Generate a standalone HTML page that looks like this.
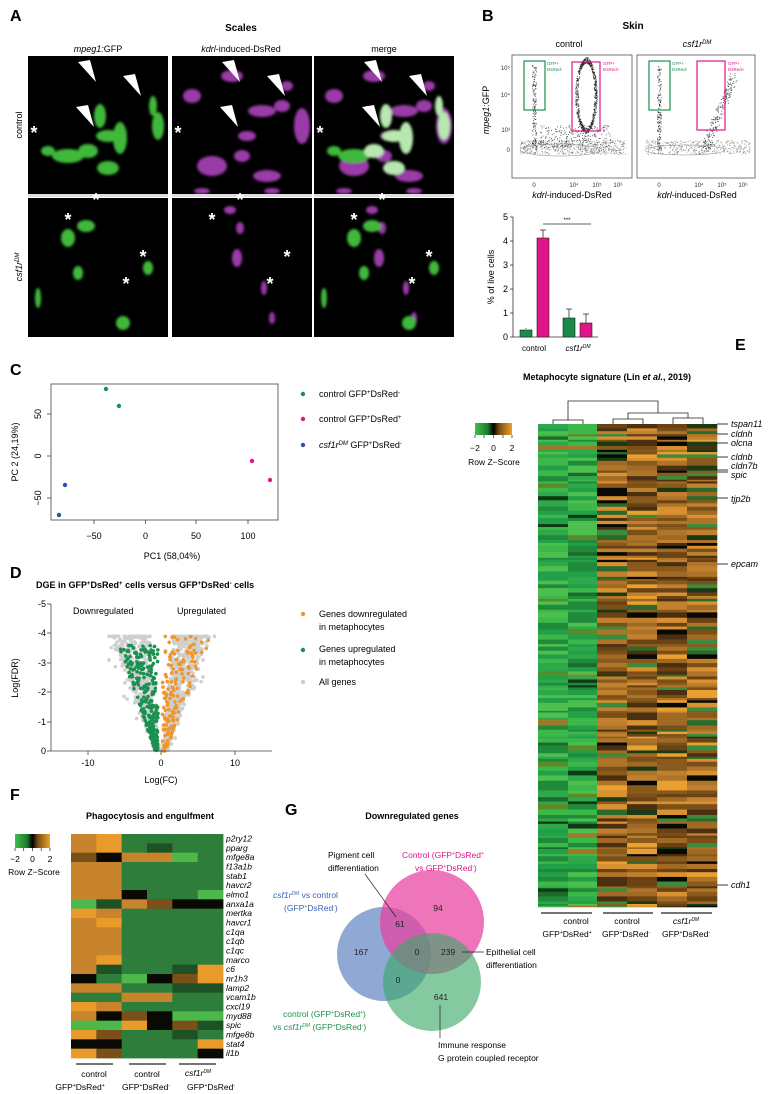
<!DOCTYPE html>
<html><head><meta charset="utf-8">
<style>
html,body{margin:0;padding:0;background:#fff;}
svg{display:block;font-family:"Liberation Sans",Arial,sans-serif;}
.b{font-weight:bold;}
.i{font-style:italic;}
</style></head>
<body>
<svg id="s" width="770" height="1094" viewBox="0 0 770 1094" xmlns="http://www.w3.org/2000/svg">
<defs>
<linearGradient id="zk" x1="0" x2="1" y1="0" y2="0">
<stop offset="0" stop-color="#3fbf4a"/><stop offset="0.35" stop-color="#1c7a2c"/><stop offset="0.5" stop-color="#000"/><stop offset="0.65" stop-color="#7a4d14"/><stop offset="1" stop-color="#f0a02a"/>
</linearGradient>
<filter id="bl"><feGaussianBlur stdDeviation="1.2"/></filter>
</defs>
<rect width="770" height="1094" fill="#fff"/>

<!-- Panel A -->
<text x="10" y="21" class="b" font-size="16">A</text>
<text x="241" y="31" class="b" font-size="10" text-anchor="middle">Scales</text>
<text x="98" y="52" font-size="9" text-anchor="middle"><tspan class="i">mpeg1:</tspan>GFP</text>
<text x="241" y="52" font-size="9" text-anchor="middle"><tspan class="i">kdrl</tspan>-induced-DsRed</text>
<text x="384" y="52" font-size="9" text-anchor="middle">merge</text>
<text transform="translate(22,125) rotate(-90)" font-size="9" text-anchor="middle">control</text>
<text transform="translate(22,267) rotate(-90)" font-size="9" text-anchor="middle" class="i">csf1r<tspan font-size="6" dy="-3">DM</tspan></text>
<g id="imgs"></g>

<!-- Panel B -->
<text x="482" y="21" class="b" font-size="16">B</text>
<text x="633" y="29" class="b" font-size="10" text-anchor="middle">Skin</text>
<text x="569" y="47" font-size="9" text-anchor="middle">control</text>
<text x="697" y="47" font-size="9" text-anchor="middle" class="i">csf1r<tspan font-size="6" dy="-3">DM</tspan></text>
<text transform="translate(489,110) rotate(-90)" font-size="9" text-anchor="middle"><tspan class="i">mpeg1</tspan>:GFP</text>
<g id="facs"></g>
<rect x="512" y="55" width="120" height="123" fill="none" stroke="#555" stroke-width="0.8"/>
<rect x="637" y="55" width="118" height="123" fill="none" stroke="#555" stroke-width="0.8"/>
<g font-size="6" fill="#333" text-anchor="end">
<text x="510" y="70">10⁵</text><text x="510" y="97">10⁴</text><text x="510" y="132">10³</text><text x="510" y="152">0</text>
</g>
<g font-size="6" fill="#333" text-anchor="middle">
<text x="534" y="187">0</text><text x="574" y="187">10⁴</text><text x="597" y="187">10⁵</text><text x="618" y="187">10⁶</text>
<text x="659" y="187">0</text><text x="699" y="187">10⁴</text><text x="722" y="187">10⁵</text><text x="743" y="187">10⁶</text>
</g>
<text x="572" y="198" font-size="9" text-anchor="middle"><tspan class="i">kdrl</tspan>-induced-DsRed</text>
<text x="697" y="198" font-size="9" text-anchor="middle"><tspan class="i">kdrl</tspan>-induced-DsRed</text>
<g fill="none" stroke-width="1.2">
<rect x="524" y="61" width="21" height="49" stroke="#1a9150"/>
<rect x="572" y="62" width="28" height="69" stroke="#e0158a"/>
<rect x="649" y="61" width="21" height="49" stroke="#1a9150"/>
<rect x="697" y="61" width="28" height="69" stroke="#e0158a"/>
</g>
<g font-size="4.5">
<text x="547" y="65" fill="#1a9150">GFP+</text><text x="547" y="71" fill="#1a9150">DsRed-</text>
<text x="603" y="65" fill="#e0158a">GFP+</text><text x="603" y="71" fill="#e0158a">DsRed+</text>
<text x="672" y="65" fill="#1a9150">GFP+</text><text x="672" y="71" fill="#1a9150">DsRed-</text>
<text x="728" y="65" fill="#e0158a">GFP+</text><text x="728" y="71" fill="#e0158a">DsRed+</text>
</g>
<!-- bar chart -->
<g stroke="#333" stroke-width="0.8" fill="none">
<line x1="513" y1="217" x2="513" y2="337"/><line x1="513" y1="337" x2="598" y2="337"/>
<line x1="510" y1="217" x2="513" y2="217"/><line x1="510" y1="241" x2="513" y2="241"/><line x1="510" y1="265" x2="513" y2="265"/><line x1="510" y1="289" x2="513" y2="289"/><line x1="510" y1="313" x2="513" y2="313"/><line x1="510" y1="337" x2="513" y2="337"/>
<line x1="543" y1="224" x2="591" y2="224"/>
<line x1="526" y1="328" x2="526" y2="329"/>
<line x1="543" y1="238" x2="543" y2="230"/><line x1="540" y1="230" x2="546" y2="230"/>
<line x1="569" y1="318" x2="569" y2="309"/><line x1="566" y1="309" x2="572" y2="309"/>
<line x1="586" y1="323" x2="586" y2="314"/><line x1="583" y1="314" x2="589" y2="314"/>
</g>
<g font-size="9" text-anchor="end"><text x="508" y="220">5</text><text x="508" y="244">4</text><text x="508" y="268">3</text><text x="508" y="292">2</text><text x="508" y="316">1</text><text x="508" y="340">0</text></g>
<text transform="translate(494,277) rotate(-90)" font-size="9" text-anchor="middle">% of live cells</text>
<text x="567" y="222" font-size="6" text-anchor="middle">***</text>
<rect x="520" y="330" width="12" height="7" fill="#1a8a4a" stroke="#222" stroke-width="0.6"/>
<rect x="537" y="238" width="12" height="99" fill="#e0158a" stroke="#222" stroke-width="0.6"/>
<rect x="563" y="318" width="12" height="19" fill="#1a8a4a" stroke="#222" stroke-width="0.6"/>
<rect x="580" y="323" width="12" height="14" fill="#e0158a" stroke="#222" stroke-width="0.6"/>
<text x="534" y="351" font-size="8" text-anchor="middle">control</text>
<text x="578" y="351" font-size="8" text-anchor="middle" class="i">csf1r<tspan font-size="5" dy="-3">DM</tspan></text>

<!-- Panel C -->
<text x="10" y="375" class="b" font-size="16">C</text>
<rect x="51" y="384" width="227" height="136" fill="none" stroke="#444" stroke-width="0.8"/>
<g stroke="#444" stroke-width="0.8">
<line x1="94" y1="520" x2="94" y2="524"/><line x1="145.5" y1="520" x2="145.5" y2="524"/><line x1="196" y1="520" x2="196" y2="524"/><line x1="248" y1="520" x2="248" y2="524"/>
<line x1="47" y1="414" x2="51" y2="414"/><line x1="47" y1="456" x2="51" y2="456"/><line x1="47" y1="498" x2="51" y2="498"/>
</g>
<g font-size="9" text-anchor="middle"><text x="94" y="539">−50</text><text x="145.5" y="539">0</text><text x="196" y="539">50</text><text x="248" y="539">100</text></g>
<g font-size="9" text-anchor="middle">
<text transform="translate(41,414) rotate(-90)">50</text><text transform="translate(41,456) rotate(-90)">0</text><text transform="translate(41,498) rotate(-90)">−50</text>
<text transform="translate(18,452) rotate(-90)">PC 2 (24,19%)</text>
</g>
<text x="172" y="559" font-size="9" text-anchor="middle">PC1 (58,04%)</text>
<circle cx="106" cy="389" r="2.2" fill="#1a9150"/><circle cx="119" cy="406" r="2.2" fill="#1a9150"/>
<circle cx="252" cy="461" r="2.2" fill="#e0158a"/><circle cx="270" cy="480" r="2.2" fill="#e0158a"/>
<circle cx="65" cy="485" r="2.2" fill="#2a52a8"/><circle cx="59" cy="515" r="2.2" fill="#2a52a8"/>
<circle cx="303" cy="394" r="2.2" fill="#1a9150"/><circle cx="303" cy="419" r="2.2" fill="#e0158a"/><circle cx="303" cy="445" r="2.2" fill="#2a52a8"/>
<g font-size="9">
<text x="319" y="397">control GFP<tspan font-size="6" dy="-3">+</tspan><tspan dy="3">DsRed</tspan><tspan font-size="6" dy="-3">-</tspan></text>
<text x="319" y="422">control GFP<tspan font-size="6" dy="-3">+</tspan><tspan dy="3">DsRed</tspan><tspan font-size="6" dy="-3">+</tspan></text>
<text x="319" y="448"><tspan class="i">csf1r</tspan><tspan font-size="6" dy="-3" class="i">DM</tspan><tspan dy="3"> GFP</tspan><tspan font-size="6" dy="-3">+</tspan><tspan dy="3">DsRed</tspan><tspan font-size="6" dy="-3">-</tspan></text>
</g>

<!-- Panel D -->
<text x="10" y="578" class="b" font-size="16">D</text>
<text x="36" y="588" class="b" font-size="9">DGE in GFP<tspan font-size="6" dy="-3">+</tspan><tspan dy="3">DsRed</tspan><tspan font-size="6" dy="-3">+</tspan><tspan dy="3"> cells versus GFP</tspan><tspan font-size="6" dy="-3">+</tspan><tspan dy="3">DsRed</tspan><tspan font-size="6" dy="-3">-</tspan><tspan dy="3"> cells</tspan></text>
<g id="volc"></g>
<g stroke="#444" stroke-width="0.8">
<line x1="51" y1="604" x2="51" y2="751"/><line x1="51" y1="751" x2="272" y2="751"/>
<line x1="47" y1="604" x2="51" y2="604"/><line x1="47" y1="633" x2="51" y2="633"/><line x1="47" y1="663" x2="51" y2="663"/><line x1="47" y1="692" x2="51" y2="692"/><line x1="47" y1="722" x2="51" y2="722"/><line x1="47" y1="751" x2="51" y2="751"/>
<line x1="88" y1="751" x2="88" y2="755"/><line x1="161" y1="751" x2="161" y2="755"/><line x1="235" y1="751" x2="235" y2="755"/>
</g>
<g font-size="9" text-anchor="end"><text x="46" y="607">-5</text><text x="46" y="636">-4</text><text x="46" y="666">-3</text><text x="46" y="695">-2</text><text x="46" y="725">-1</text><text x="46" y="754">0</text></g>
<g font-size="9" text-anchor="middle"><text x="88" y="766">-10</text><text x="161" y="766">0</text><text x="235" y="766">10</text></g>
<text transform="translate(18,678) rotate(-90)" font-size="9" text-anchor="middle">Log(FDR)</text>
<text x="161" y="783" font-size="9" text-anchor="middle">Log(FC)</text>
<text x="73" y="614" font-size="9">Downregulated</text>
<text x="177" y="614" font-size="9">Upregulated</text>
<circle cx="303" cy="614" r="2.2" fill="#f0962a"/><circle cx="303" cy="650" r="2.2" fill="#1a9150"/><circle cx="303" cy="682" r="2.2" fill="#ccc"/>
<g font-size="9"><text x="319" y="617">Genes downregulated</text><text x="319" y="630">in metaphocytes</text>
<text x="319" y="652">Genes upregulated</text><text x="319" y="665">in metaphocytes</text><text x="319" y="685">All genes</text></g>

<!-- Panel E -->
<text x="735" y="350" class="b" font-size="16">E</text>
<text x="523" y="380" class="b" font-size="9">Metaphocyte signature (Lin <tspan class="i">et al.</tspan>, 2019)</text>
<g stroke="#222" stroke-width="0.8" fill="none">
<polyline points="553,424 553,420 583,420 583,424"/>
<polyline points="613,424 613,419 643,419 643,424"/>
<polyline points="673,424 673,418 703,418 703,424"/>
<polyline points="628,419 628,413 688,413 688,418"/>
<polyline points="568,420 568,401 658,401 658,413"/>
</g>
<rect x="475" y="423" width="37" height="12" fill="url(#zk)"/>
<g stroke="#222" stroke-width="0.7"><line x1="475" y1="435" x2="475" y2="438"/><line x1="484" y1="435" x2="484" y2="438"/><line x1="493.5" y1="435" x2="493.5" y2="438"/><line x1="503" y1="435" x2="503" y2="438"/><line x1="512" y1="435" x2="512" y2="438"/></g>
<g font-size="8.5" text-anchor="middle"><text x="475" y="451">−2</text><text x="493.5" y="451">0</text><text x="512" y="451">2</text></g>
<text x="494" y="465" font-size="8.5" text-anchor="middle">Row Z−Score</text>
<g id="hmE"></g>
<g stroke="#222" stroke-width="0.9">
<line x1="717" y1="424" x2="728" y2="424"/><line x1="717" y1="434" x2="728" y2="434"/><line x1="717" y1="443" x2="728" y2="443"/><line x1="717" y1="457" x2="728" y2="457"/><line x1="717" y1="470" x2="728" y2="470"/><line x1="717" y1="472" x2="728" y2="472"/><line x1="717" y1="498" x2="728" y2="498"/><line x1="717" y1="564" x2="728" y2="564"/><line x1="717" y1="885" x2="728" y2="885"/>
</g>
<g font-size="9" class="i">
<text x="731" y="427">tspan11</text><text x="731" y="437">cldnh</text><text x="731" y="446">olcna</text><text x="731" y="460">cldnb</text><text x="731" y="469">cldn7b</text><text x="731" y="478">spic</text><text x="731" y="502">tjp2b</text><text x="731" y="567">epcam</text><text x="731" y="888">cdh1</text>
</g>
<g stroke="#222" stroke-width="1.3"><line x1="541" y1="913" x2="592" y2="913"/><line x1="603" y1="913" x2="653" y2="913"/><line x1="661" y1="913" x2="712" y2="913"/></g>
<g font-size="8.5" text-anchor="middle">
<text x="576" y="924">control</text><text x="627" y="924">control</text><text x="686" y="924" class="i">csf1r<tspan font-size="5" dy="-3">DM</tspan></text>
<text x="567" y="937">GFP<tspan font-size="5" dy="-3">+</tspan><tspan dy="3">DsRed</tspan><tspan font-size="5" dy="-3">+</tspan></text>
<text x="626" y="937">GFP<tspan font-size="5" dy="-3">+</tspan><tspan dy="3">DsRed</tspan><tspan font-size="5" dy="-3">-</tspan></text>
<text x="686" y="937">GFP<tspan font-size="5" dy="-3">+</tspan><tspan dy="3">DsRed</tspan><tspan font-size="5" dy="-3">-</tspan></text>
</g>

<!-- Panel F -->
<text x="10" y="800" class="b" font-size="16">F</text>
<text x="150" y="819" class="b" font-size="9" text-anchor="middle">Phagocytosis and engulfment</text>
<rect x="15" y="834" width="35" height="14" fill="url(#zk)"/>
<g stroke="#222" stroke-width="0.7"><line x1="15" y1="848" x2="15" y2="851"/><line x1="23.7" y1="848" x2="23.7" y2="851"/><line x1="32.5" y1="848" x2="32.5" y2="851"/><line x1="41.2" y1="848" x2="41.2" y2="851"/><line x1="50" y1="848" x2="50" y2="851"/></g>
<g font-size="8.5" text-anchor="middle"><text x="15" y="862">−2</text><text x="32.5" y="862">0</text><text x="50" y="862">2</text></g>
<text x="34" y="875" font-size="8.5" text-anchor="middle">Row Z−Score</text>
<g id="hmF"></g>
<g stroke="#222" stroke-width="1.3"><line x1="76" y1="1064" x2="113" y2="1064"/><line x1="129" y1="1064" x2="166" y2="1064"/><line x1="179" y1="1064" x2="216" y2="1064"/></g>
<g font-size="8.5" text-anchor="middle">
<text x="94" y="1077">control</text><text x="147" y="1077">control</text><text x="198" y="1076" class="i">csf1r<tspan font-size="5" dy="-3">DM</tspan></text>
<text x="80" y="1090">GFP<tspan font-size="5" dy="-3">+</tspan><tspan dy="3">DsRed</tspan><tspan font-size="5" dy="-3">+</tspan></text>
<text x="146" y="1090">GFP<tspan font-size="5" dy="-3">+</tspan><tspan dy="3">DsRed</tspan><tspan font-size="5" dy="-3">-</tspan></text>
<text x="211" y="1090">GFP<tspan font-size="5" dy="-3">+</tspan><tspan dy="3">DsRed</tspan><tspan font-size="5" dy="-3">-</tspan></text>
</g>

<!-- Panel G -->
<text x="285" y="815" class="b" font-size="16">G</text>
<text x="412" y="819" class="b" font-size="9" text-anchor="middle">Downregulated genes</text>
<circle cx="384" cy="954" r="47" fill="#6f8fc8" fill-opacity="0.78"/>
<circle cx="432" cy="922" r="52" fill="#e8409e" fill-opacity="0.72"/>
<circle cx="432" cy="982" r="49" fill="#3aa868" fill-opacity="0.62"/>
<g font-size="8.5" text-anchor="middle" fill="#222">
<text x="400" y="927">61</text><text x="438" y="911">94</text><text x="361" y="955">167</text><text x="417" y="955">0</text><text x="448" y="955">239</text><text x="398" y="983">0</text><text x="441" y="1000">641</text>
</g>
<g font-size="8.5">
<text x="328" y="858">Pigment cell</text><text x="328" y="871">differentiation</text>
<text x="402" y="858" fill="#e0158a">Control (GFP<tspan font-size="5" dy="-3">+</tspan><tspan dy="3">DsRed</tspan><tspan font-size="5" dy="-3">+</tspan></text>
<text x="415" y="871" fill="#e0158a">vs GFP<tspan font-size="5" dy="-3">+</tspan><tspan dy="3">DsRed</tspan><tspan font-size="5" dy="-3">-</tspan><tspan dy="3">)</tspan></text>
<text x="273" y="898" fill="#3d62b0"><tspan class="i">csf1r</tspan><tspan font-size="5" dy="-3" class="i">DM</tspan><tspan dy="3"> vs control</tspan></text>
<text x="284" y="911" fill="#3d62b0">(GFP<tspan font-size="5" dy="-3">+</tspan><tspan dy="3">DsRed</tspan><tspan font-size="5" dy="-3">-</tspan><tspan dy="3">)</tspan></text>
<text x="283" y="1017" fill="#1a9150">control (GFP<tspan font-size="5" dy="-3">+</tspan><tspan dy="3">DsRed</tspan><tspan font-size="5" dy="-3">+</tspan><tspan dy="3">)</tspan></text>
<text x="273" y="1030" fill="#1a9150">vs <tspan class="i">csf1r</tspan><tspan font-size="5" dy="-3" class="i">DM</tspan><tspan dy="3"> (GFP</tspan><tspan font-size="5" dy="-3">+</tspan><tspan dy="3">DsRed</tspan><tspan font-size="5" dy="-3">-</tspan><tspan dy="3">)</tspan></text>
<text x="438" y="1048">Immune response</text><text x="438" y="1061">G protein coupled receptor</text>
<text x="486" y="955">Epithelial cell</text><text x="486" y="968">differentiation</text>
</g>
<g stroke="#222" stroke-width="0.7">
<line x1="365" y1="874" x2="396" y2="917"/>
<line x1="462" y1="952" x2="484" y2="952"/>
<line x1="440" y1="1005" x2="440" y2="1038"/>
</g>
</svg>
<script>
(function(){
var NS="http://www.w3.org/2000/svg";
function el(p,t,a){var e=document.createElementNS(NS,t);for(var k in a)e.setAttribute(k,a[k]);p.appendChild(e);return e;}
var seed=7;function r(){seed=(seed*16807)%2147483647;return (seed-1)/2147483646;}
// Panel A images
var g=document.getElementById('imgs');
var cols=[28,172,314],rows=[[56,138],[198,139]];
var cellsC=[[40,100,16,7],[60,95,10,7],[80,80,12,6],[72,60,6,12],[92,82,7,16],[80,112,11,7],[130,70,6,14],[125,50,4,10],[20,95,7,5]];
var cellsM=[[60,20,11,6],[90,55,14,6],[110,50,8,6],[130,70,8,18],[40,110,15,10],[95,120,14,6],[20,40,9,7],[115,30,6,5],[70,100,8,6],[30,135,8,3],[100,135,8,3],[75,80,9,5]];
var cellsD=[[40,40,7,9],[58,28,9,6],[50,75,5,7],[120,70,5,7],[10,100,3,10],[95,125,7,7]];
var cellsDM=[[58,12,6,4],[68,30,4,6],[65,60,5,9],[92,90,3,7],[100,120,3,6]];
rows.forEach(function(rw,ri){cols.forEach(function(cx,ci){
 el(g,'rect',{x:cx,y:rw[0],width:140,height:rw[1],fill:'#000'});
 var gg=el(g,'g',{filter:'url(#bl)'});
 var G=ri==0?cellsC:cellsD,M=ri==0?cellsM:cellsDM;
 if(ci>=1)M.forEach(function(c){el(gg,'ellipse',{cx:cx+c[0],cy:rw[0]+c[1],rx:c[2],ry:c[3],fill:'#9a3aa8'});});
 if(ci!=1)G.forEach(function(c){el(gg,'ellipse',{cx:cx+c[0],cy:rw[0]+c[1],rx:c[2],ry:c[3],fill:ci==2&&ri==0&&c[0]>55?'#b8e8b0':'#3fb83a'});});
 var stars=ri==0?[[6,83]]:[[40,28],[68,8],[115,65],[98,92]];
 stars.forEach(function(s){var t=el(g,'text',{x:cx+s[0],y:rw[0]+s[1],fill:'#fff','font-size':'18','font-weight':'bold','text-anchor':'middle'});t.textContent='*';});
 if(ri==0){[[60,18],[105,32],[58,63]].forEach(function(a){var x=cx+a[0],y=rw[0]+a[1];el(g,'polygon',{points:(x-10)+','+(y-12)+' '+(x+2)+','+(y-14)+' '+(x+8)+','+(y+8),fill:'#fff'});});}
 if(ri==0)el(g,'rect',{x:cx,y:rw[0]+rw[1],width:140,height:3,fill:'#ddd'});
});});
// FACS dots
var f=document.getElementById('facs');
function dots(n,fx,col,op){for(var i=0;i<n;i++){var p=fx();el(f,'rect',{x:p[0],y:p[1],width:0.9,height:0.9,fill:col||'#222','fill-opacity':op||0.8});}}
[0,125].forEach(function(o,k){
 dots(160,function(){return [o+534+(r()-0.5)*4,65+r()*85];});
 dots(k?400:600,function(){return [o+520+r()*105,140+r()*14];},'#555',0.6);
 if(!k){dots(700,function(){var t=r()*6.28;return [586+Math.cos(t)*(8+r()*3),95+Math.sin(t)*(32+r()*6)];});
  dots(250,function(){return [540+r()*70,125+r()*22];});}
 else{dots(220,function(){var t=r();return [o+575+t*30+r()*8,145-t*75+r()*10];});}
});
el(f,'ellipse',{cx:560,cy:150,rx:40,ry:6,fill:'none',stroke:'#888','stroke-width':0.5});
el(f,'ellipse',{cx:685,cy:150,rx:40,ry:5,fill:'none',stroke:'#888','stroke-width':0.5});
// Volcano
var v=document.getElementById('volc');
function X(fc){return 161+fc*7.35;}function Y(l){return 751-l*29.4;}
function pt(fc,l,c,rr){el(v,'circle',{cx:X(fc),cy:Y(l),r:rr||1.8,fill:c});}
for(var i=0;i<1100;i++){var l=Math.min(3.9,Math.pow(r(),0.8)*4.1),s=r()<0.5?-1:1;var fc=s*(0.1+l*(0.3+r()*1.3)+r()*0.8);if(r()<0.04)fc*=1.5;pt(fc,l,'#cfcfcf');}
for(var i=0;i<240;i++){var l=r()*3.6;var fc=-(0.4+r()*(0.4+l*1.4));pt(fc,l,'#1a9150');}
for(var i=0;i<150;i++){var l=r()*3.9;var fc=(0.2+r()*(0.4+l*1.6));pt(fc,l,'#f0962a');}
// Heatmap F
var hf=document.getElementById('hmF');
var C={O:'#c8842c',o:'#e89a2a',g:'#2e7d3a',d:'#1e5226',G:'#4cb84a',k:'#0a0a05',b:'#7a5018'};
var M=["Oogggg","Oogdgg","bkOOGg","OOgggg","OOgggg","OOgggg","OOkggG","GdObkk","oOgggg","Oogggg","OOgggg","OOgggg","OOgggg","Oogggg","Odggdo","kgGkbo","OOggdd","ggOOgg","oOgggg","OkbkGG","GGokbd","obggdg","kkgggo","obgggk"];
var genes=["p2ry12","pparg","mfge8a","f13a1b","stab1","havcr2","elmo1","anxa1a","mertka","havcr1","c1qa","c1qb","c1qc","marco","c6","nr1h3","lamp2","vcam1b","cxcl19","myd88","spic","mfge8b","stat4","il1b"];
var rh=224/24,cw=152/6;
M.forEach(function(row,i){for(var j=0;j<6;j++){el(hf,'rect',{x:71+j*cw,y:834+i*rh,width:cw+0.4,height:rh+0.4,fill:C[row[j]]});}
 var t=el(hf,'text',{x:226,y:834+i*rh+7.5,'font-size':'8.5','font-style':'italic'});t.textContent=genes[i];});
// Heatmap E
var he=document.getElementById('hmE');
var gE=['#3cb84a','#2ea84a','#22a048','#4cbf4e','#1f8a3a'];var gEd=['#1c6a2c','#0e3a14','#5a8a2a','#a0782a'];
var bE=['#8a5a1c','#a06a24','#6a4214','#c08030','#d89030','#4a3010','#b07428','#7a5018'];var bEd=['#0a0a05','#2a6a2a','#3c8a3c','#1a3a14','#e8a030'];
var y=424,H=907;
while(y<H){var h=1.5+r()*4;if(y+h>H)h=H-y;
 for(var j=0;j<6;j++){var c;
  if(j<2){c=r()<0.18?gEd[Math.floor(r()*4)]:gE[Math.floor(r()*5)];}
  else{c=r()<(j>=4?0.25:0.18)?bEd[Math.floor(r()*5)]:bE[Math.floor(r()*8)];}
  var xs=[538,568,597,627,657,687,717];
  el(he,'rect',{x:xs[j],y:y,width:xs[j+1]-xs[j]+0.3,height:h+0.3,fill:c});}
 y+=h;}
})();
</script>
</body></html>
